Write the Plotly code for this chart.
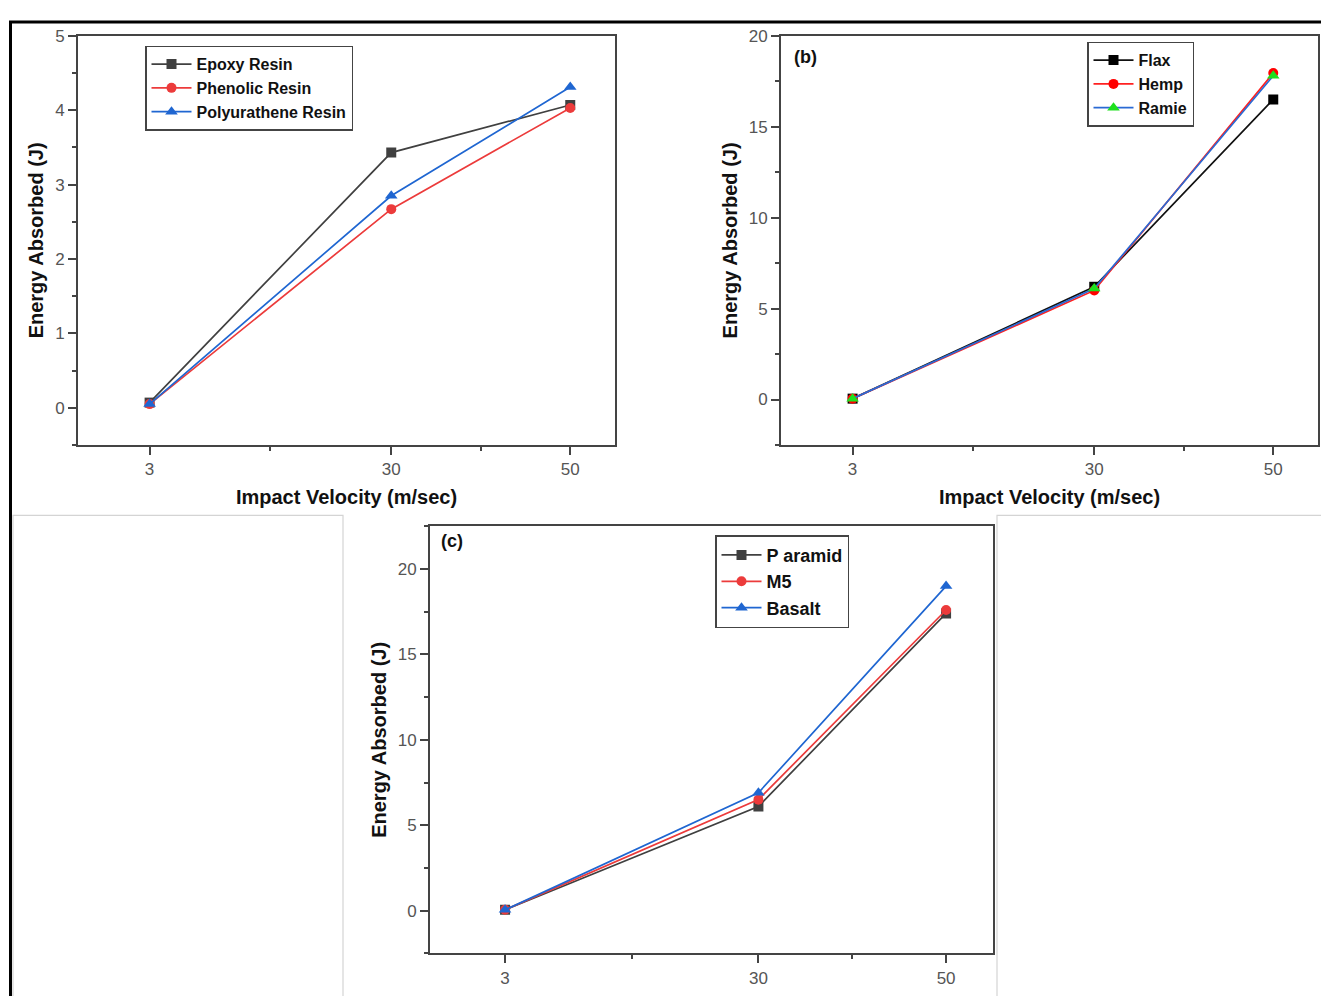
import plotly.graph_objects as go

W, H = 1321, 996

velocity = [3, 30, 50]
x_tick_vals = [3, 30, 50]
x_tick_text = ["3", "30", "50"]
x_minor_vals = [16.5, 40]

# Panel (a) - resin
resin_names = ["Epoxy Resin", "Phenolic Resin", "Polyurathene Resin"]
epoxy = [0.07, 3.43, 4.07]
phenolic = [0.05, 2.67, 4.03]
polyurathene = [0.05, 2.85, 4.31]

# Panel (b) - natural fibres
fibre_names = ["Flax", "Hemp", "Ramie"]
flax = [0.05, 6.2, 16.5]
hemp = [0.05, 6.0, 17.95]
ramie = [0.05, 6.1, 17.8]

# Panel (c) - synthetic fibres
synth_names = ["P aramid", "M5", "Basalt"]
paramid = [0.05, 6.1, 17.4]
m5 = [0.05, 6.5, 17.6]
basalt = [0.05, 6.9, 19.0]

def px(x):
    return x / W

def py(y):
    return 1 - y / H

GRAY = "#404040"
RED = "#ec3b3b"
BLUE = "#1f66d1"
AXC = "#444444"
TICKFONT = dict(family="Liberation Sans Narrow, Arial Narrow, Liberation Sans, Arial", size=17, color="#555555")
TITLEFONT = dict(family="Liberation Sans, Arial", size=20, color="#111111")
LEGFONT = dict(family="Liberation Sans, Arial", size=16, color="#111111", weight="bold")

fig = go.Figure()

def add(xa, ya, name, vals, lcol, mcol, sym, leg, msize=10):
    fig.add_trace(go.Scatter(
        x=velocity, y=vals, name=name, mode="lines+markers",
        line=dict(color=lcol, width=1.7),
        marker=dict(color=mcol, symbol=sym, size=msize),
        xaxis=xa, yaxis=ya, legend=leg,
    ))

add("x", "y", resin_names[0], epoxy, GRAY, GRAY, "square", "legend")
add("x", "y", resin_names[1], phenolic, RED, RED, "circle", "legend")
add("x", "y", resin_names[2], polyurathene, BLUE, BLUE, "triangle-up", "legend", 11)

add("x2", "y2", fibre_names[0], flax, "#111111", "#000000", "square", "legend2")
add("x2", "y2", fibre_names[1], hemp, "#ff2020", "#ff0000", "circle", "legend2")
add("x2", "y2", fibre_names[2], ramie, "#2a6ad4", "#1ee01e", "triangle-up", "legend2", 11)

add("x3", "y3", synth_names[0], paramid, GRAY, GRAY, "square", "legend3")
add("x3", "y3", synth_names[1], m5, RED, RED, "circle", "legend3")
add("x3", "y3", synth_names[2], basalt, BLUE, BLUE, "triangle-up", "legend3", 11)

def xaxis(domain, anchor, title):
    d = dict(
        domain=domain, anchor=anchor, range=[-5, 55],
        tickmode="array", tickvals=x_tick_vals, ticktext=x_tick_text,
        ticks="outside", ticklen=8, tickwidth=1.6, tickcolor=AXC,
        minor=dict(tickmode="array", tickvals=x_minor_vals, ticks="outside",
                   ticklen=4, tickwidth=1.6, tickcolor=AXC),
        showline=True, linecolor=AXC, linewidth=2, mirror=True,
        showgrid=False, zeroline=False, tickfont=TICKFONT,
    )
    if title:
        d["title"] = dict(text=title, font=TITLEFONT, standoff=12)
    return d

def yaxis(domain, anchor, rng, dtick, title):
    return dict(
        domain=domain, anchor=anchor, range=rng,
        tickmode="linear", tick0=0, dtick=dtick,
        ticks="outside", ticklen=8, tickwidth=1.6, tickcolor=AXC,
        minor=dict(tickmode="linear", tick0=0, dtick=dtick / 2, ticks="outside",
                   ticklen=4, tickwidth=1.6, tickcolor=AXC),
        showline=True, linecolor=AXC, linewidth=2, mirror=True,
        showgrid=False, zeroline=False, tickfont=TICKFONT,
        title=dict(text=title, font=TITLEFONT, standoff=6),
    )

ytitle = "<b>Energy Absorbed (J)</b>"
xtitle = "<b>Impact Velocity (m/sec)</b>"

legend_common = dict(
    bgcolor="rgba(255,255,255,1)", bordercolor="#444444", borderwidth=1.5,
    font=LEGFONT, xanchor="left", yanchor="top", tracegroupgap=0,
    itemwidth=40, itemsizing="trace",
)

fig.update_layout(
    width=W, height=H, margin=dict(l=0, r=0, t=0, b=0),
    paper_bgcolor="white", plot_bgcolor="white",
    xaxis=xaxis([px(78), px(615)], "y", xtitle),
    yaxis=yaxis([py(440), py(27)], "x", [-0.5, 5], 1, ytitle),
    xaxis2=xaxis([px(781), px(1318)], "y2", xtitle),
    yaxis2=yaxis([py(440), py(27)], "x2", [-2.5, 20], 5, ytitle),
    xaxis3=xaxis([px(430), px(993)], "y3", None),
    yaxis3=yaxis([py(953), py(522)], "x3", [-2.5, 22.5], 5, ytitle),
    legend=dict(legend_common, x=px(145), y=py(37)),
    legend2=dict(legend_common, x=px(1087), y=py(33)),
    legend3=dict(legend_common, x=px(715), y=py(531), font=dict(LEGFONT, size=18)),
    showlegend=True,
)

# panel labels
fig.add_annotation(text="<b>(b)</b>", x=px(792), y=py(48), xref="paper", yref="paper",
                   xanchor="left", yanchor="middle", showarrow=False,
                   font=dict(family="Liberation Sans Narrow, Liberation Sans, Arial", size=18, color="#111111"))
fig.add_annotation(text="<b>(c)</b>", x=px(439), y=py(537), xref="paper", yref="paper",
                   xanchor="left", yanchor="middle", showarrow=False,
                   font=dict(family="Liberation Sans Narrow, Liberation Sans, Arial", size=18, color="#111111"))

# page frame and picture boxes
fig.add_shape(type="line", xref="paper", yref="paper", x0=px(9), x1=1, y0=py(13), y1=py(13),
              line=dict(color="black", width=3))
fig.add_shape(type="line", xref="paper", yref="paper", x0=px(10.5), x1=px(10.5), y0=py(12), y1=0,
              line=dict(color="black", width=3))
fig.add_shape(type="rect", xref="paper", yref="paper", x0=px(13), x1=px(343), y0=-0.01, y1=py(511),
              line=dict(color="#d4d4d4", width=1.2))
fig.add_shape(type="rect", xref="paper", yref="paper", x0=px(997), x1=1.01, y0=-0.01, y1=py(511),
              line=dict(color="#d4d4d4", width=1.2))

post = ("document.documentElement.style.margin='0';document.body.style.margin='0';"
        "document.body.style.padding='0';document.body.style.overflow='hidden';"
        "var d=document.getElementById('{plot_id}');d.style.position='absolute';"
        "d.style.left='0px';d.style.top='0px';")

fig.write_html("out.html", post_script=post, config={"displayModeBar": False})
